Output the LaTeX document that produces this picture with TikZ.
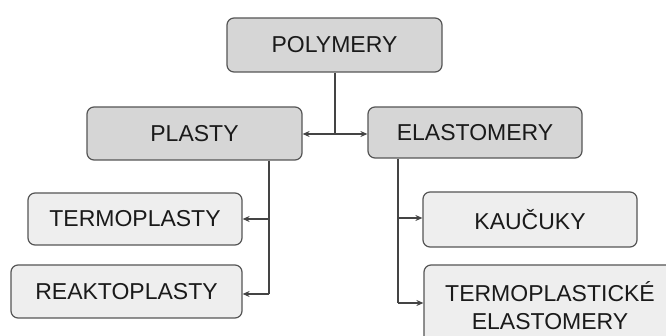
\documentclass[tikz,border=0pt]{standalone}
\usepackage{fontspec}
\setmainfont{Liberation Sans}
\usetikzlibrary{arrows.meta}
\definecolor{dkfill}{HTML}{D6D6D6}
\definecolor{ltfill}{HTML}{EEEEEE}
\definecolor{edge}{HTML}{555555}
\definecolor{txt}{HTML}{1A1A1A}
\definecolor{wire}{HTML}{444444}
\tikzset{
  box/.style={draw=edge, line width=1.2pt, rounded corners=7pt, text=txt,
    font=\fontsize{23}{28}\selectfont, inner sep=0pt, align=center},
  topbox/.style={box, fill=dkfill},
  subbox/.style={box, fill=ltfill},
  wireline/.style={draw=wire, line width=1.1pt},
  arr/.style={wireline, -{Stealth[length=7pt,width=6pt]}},
}
\begin{document}
\begin{tikzpicture}[x=1pt,y=-1pt]
\useasboundingbox (0,0) rectangle (666,336);
\clip (0,0) rectangle (666,336);
\node[topbox, minimum width=215pt, minimum height=54pt] (poly) at (334.5,45) {POLYMERY};
\node[topbox, minimum width=215pt, minimum height=53pt] (plasty) at (194.5,133.5) {PLASTY};
\node[topbox, minimum width=214pt, minimum height=51pt] (elast) at (475,132.5) {ELASTOMERY};
\node[subbox, minimum width=214pt, minimum height=52pt] (termo) at (135,219) {TERMOPLASTY};
\node[subbox, minimum width=231pt, minimum height=53pt] (reakto) at (126.5,291.5) {REAKTOPLASTY};
\node[subbox, minimum width=214pt, minimum height=55pt] (kauc) at (530,219.5) {KAUČUKY};
\node[subbox, minimum width=252pt, minimum height=82pt] (tpe) at (550,306) {TERMOPLASTICKÉ\\ELASTOMERY};
% top junction
\coordinate (j1) at (335,134);
\draw[wireline] (poly.south -| j1) -- (j1);
\draw[arr] (j1) -- (j1 -| plasty.east);
\draw[arr] (j1) -- (j1 -| elast.west);
% left branch
\coordinate (lt) at (269,219);
\coordinate (lb) at (269,294);
\draw[wireline] (plasty.south -| lb) -- (lb);
\draw[arr] (lt) -- (lt -| termo.east);
\draw[arr] (lb) -- (lb -| reakto.east);
% right branch
\coordinate (rt) at (398,218);
\coordinate (rb) at (398,303);
\draw[wireline] (elast.south -| rb) -- (rb);
\draw[arr] (rt) -- (rt -| kauc.west);
\draw[arr] (rb) -- (rb -| tpe.west);
\end{tikzpicture}
\end{document}
